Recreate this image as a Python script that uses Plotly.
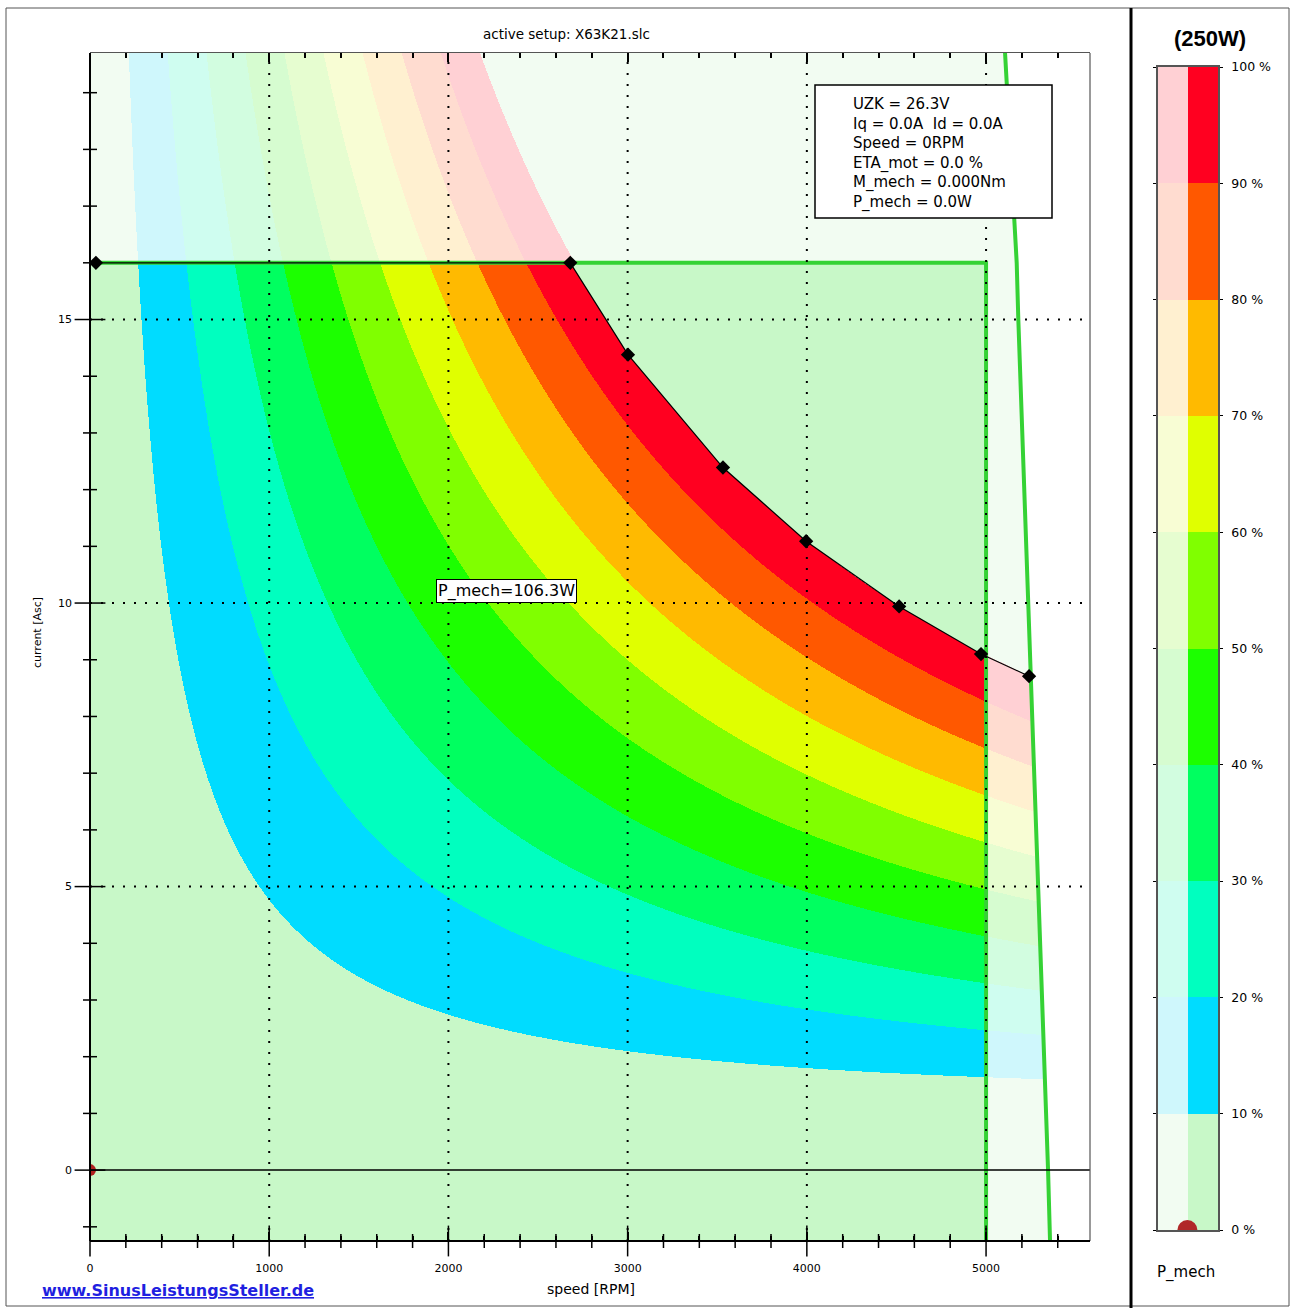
import numpy as np
import plotly.graph_objects as go

W, H = 1291, 1308

# ---------------- axes ----------------
X_RANGE = [0, 5580]
Y_RANGE = [-1.25, 19.7]
X_MAJOR = [0, 1000, 2000, 3000, 4000, 5000]
X_MINOR = [v for v in range(200, 5600, 200) if v % 1000 != 0]
Y_MAJOR = [0, 5, 10, 15]
Y_MINOR = [v for v in range(-1, 20) if v % 5 != 0]

# ---------------- motor model ----------------
P_REF = 250.0          # 100 % mechanical power [W]
BAND_STEP = 25.0       # 10 % bands
K_MECH = 0.00604       # W per (rpm * A)
I_NOLOAD_0 = 0.58      # no-load current at 0 rpm [A]
I_NOLOAD_SLOPE = 4.6e-5  # growth of no-load current per rpm [A/rpm]

LIMIT_RPM = 5000
LIMIT_I = 16

# operating limit curve (black with diamonds)
BOUND_RPM = [33, 2680, 3002, 3532, 3996, 4515, 4972, 5240]
BOUND_I = [16.0, 16.0, 14.38, 12.39, 11.09, 9.94, 9.10, 8.71]

# maximum speed line (green, slanted)
MAXLINE_RPM = [5106, 5171, 5180, 5252, 5346, 5357]
MAXLINE_I = [19.7, 16.0, 15.0, 8.7, 0.0, -1.25]

SAT_COLORS = ["#c8f8c8", "#00dcff", "#00ffbf", "#00ff60", "#1cff00",
              "#80ff00", "#e0ff00", "#ffba00", "#ff5800", "#ff0020"]
PALE_COLORS = ["#f2fcf2", "#cff7fc", "#cffdf0", "#d2fde0", "#d6fcd0",
               "#e6fdd0", "#f8fdd4", "#fff0d0", "#ffdcd0", "#ffd0d4"]
CB_LABELS = ["0 %", "10 %", "20 %", "30 %", "40 %", "50 %", "60 %", "70 %", "80 %", "90 %", "100 %"]
CB_VALUES = [0, 10, 20, 30, 40, 50, 60, 70, 80, 90, 100]

INFO_LINES = ["UZK = 26.3V", "Iq = 0.0A\u00a0\u00a0Id = 0.0A", "Speed = 0RPM",
              "ETA_mot = 0.0 %", "M_mech = 0.000Nm", "P_mech = 0.0W"]

COLORS = SAT_COLORS + PALE_COLORS + ["#ffffff"]
NC = len(COLORS)
cscale = []
for i, c in enumerate(COLORS):
    cscale.append([i / NC, c])
    cscale.append([(i + 1) / NC, c])

# ---------------- field ----------------
nx, ny = 1000, 1188
xs = X_RANGE[0] + (np.arange(nx) + 0.5) * (X_RANGE[1] - X_RANGE[0]) / nx
ys = Y_RANGE[0] + (np.arange(ny) + 0.5) * (Y_RANGE[1] - Y_RANGE[0]) / ny
N, I = np.meshgrid(xs, ys)
P = K_MECH * N * (I - (I_NOLOAD_0 + I_NOLOAD_SLOPE * N))
band = np.floor(P / BAND_STEP).astype(int)
band_eff = np.where((band >= 1) & (band <= 9), band, 0)
bound = np.interp(N, BOUND_RPM, BOUND_I)
main = (N <= LIMIT_RPM) & (I <= LIMIT_I)
main_band = np.where(I <= bound, band_eff, 0)
nmax = np.interp(I, MAXLINE_I[::-1], MAXLINE_RPM[::-1])
z = np.where(main, main_band, 10 + band_eff)
z = np.where(N > nmax, 20, z).astype(np.uint8)


def px(v):
    return v / W


def py(v):
    return 1 - v / H


fig = go.Figure()
fig.add_trace(go.Heatmap(x=xs, y=ys, z=z, colorscale=cscale, zmin=-0.5, zmax=NC - 0.5,
                         showscale=False, hoverinfo="skip", zsmooth=False))
GREEN = "#35d235"
fig.add_trace(go.Scatter(x=[0, LIMIT_RPM, LIMIT_RPM], y=[LIMIT_I, LIMIT_I, Y_RANGE[0]],
                         mode="lines", line=dict(color=GREEN, width=4), hoverinfo="skip"))
fig.add_trace(go.Scatter(x=MAXLINE_RPM, y=MAXLINE_I, mode="lines",
                         line=dict(color=GREEN, width=4), hoverinfo="skip"))
fig.add_trace(go.Scatter(x=BOUND_RPM, y=BOUND_I, mode="lines+markers",
                         line=dict(color="black", width=1.2),
                         marker=dict(symbol="diamond", size=11, color="black"), hoverinfo="skip"))
fig.add_trace(go.Scatter(x=[0], y=[0], mode="markers", cliponaxis=True,
                         marker=dict(size=12, color="#b02020"), hoverinfo="skip"))

# crossing tick marks on the bottom and left axes
TICK = dict(color="black", width=1.5)
fig.add_trace(go.Scatter(x=X_MAJOR, y=[Y_RANGE[0]] * len(X_MAJOR), mode="markers", cliponaxis=False,
                         marker=dict(symbol="line-ns", size=22, line=TICK), hoverinfo="skip"))
fig.add_trace(go.Scatter(x=X_MINOR, y=[Y_RANGE[0]] * len(X_MINOR), mode="markers", cliponaxis=False,
                         marker=dict(symbol="line-ns", size=10, line=TICK), hoverinfo="skip"))
fig.add_trace(go.Scatter(x=[X_RANGE[0]] * len(Y_MAJOR), y=Y_MAJOR, mode="markers", cliponaxis=False,
                         marker=dict(symbol="line-ew", size=22, line=TICK), hoverinfo="skip"))
fig.add_trace(go.Scatter(x=[X_RANGE[0]] * len(Y_MINOR), y=Y_MINOR, mode="markers", cliponaxis=False,
                         marker=dict(symbol="line-ew", size=10, line=TICK), hoverinfo="skip"))

# colour bar as its own small axes
cb_z = [[10 + k, k] for k in range(10)]
fig.add_trace(go.Heatmap(x=[0, 1], y=[5 + 10 * k for k in range(10)], z=cb_z,
                         colorscale=cscale, zmin=-0.5, zmax=NC - 0.5, showscale=False,
                         hoverinfo="skip", xaxis="x2", yaxis="y2"))
fig.add_trace(go.Scatter(x=[0.48], y=[0], mode="markers", cliponaxis=True, xaxis="x2", yaxis="y2",
                         marker=dict(size=20, color="#b02828"), hoverinfo="skip"))

shapes = []
# dotted grid
for v in X_MAJOR[1:]:
    shapes.append(dict(type="line", xref="x", yref="y domain", x0=v, x1=v, y0=0, y1=1,
                       line=dict(color="black", width=2, dash="2px,9px"), layer="above"))
for v in Y_MAJOR[1:]:
    shapes.append(dict(type="line", xref="x domain", yref="y", x0=0, x1=1, y0=v, y1=v,
                       line=dict(color="black", width=2, dash="2px,9px"), layer="above"))
# zero line
shapes.append(dict(type="line", xref="x domain", yref="y", x0=0, x1=1, y0=0, y1=0,
                   line=dict(color="black", width=1.5), layer="above"))
# plot frame
shapes.append(dict(type="line", xref="x domain", yref="y domain", x0=1, x1=1, y0=0, y1=1,
                   line=dict(color="#555555", width=1.2), layer="above"))
shapes.append(dict(type="line", xref="x domain", yref="y domain", x0=0, x1=0, y0=0, y1=1,
                   line=dict(color="black", width=2), layer="above"))
shapes.append(dict(type="line", xref="x domain", yref="y domain", x0=0, x1=1, y0=0, y1=0,
                   line=dict(color="black", width=2), layer="above"))
# info box
shapes.append(dict(type="rect", xref="paper", yref="paper", x0=px(815), x1=px(1052),
                   y0=py(218), y1=py(85), fillcolor="white", line=dict(color="black", width=1.5),
                   layer="above"))
# outer frames
shapes.append(dict(type="rect", xref="paper", yref="paper", x0=px(6), x1=px(1289),
                   y0=py(1306), y1=py(8), line=dict(color="#555555", width=1), layer="above"))
shapes.append(dict(type="line", xref="paper", yref="paper", x0=px(1131), x1=px(1131),
                   y0=0, y1=py(8), line=dict(color="black", width=3), layer="above"))

ann = dict(xref="paper", yref="paper", showarrow=False, xanchor="center", yanchor="middle")
annotations = [
    dict(ann, text="active setup: X63K21.slc", x=px(566), y=py(34), font=dict(size=13.5)),
    dict(ann, text="speed [RPM]", x=px(591), y=py(1289), font=dict(size=14)),
    dict(ann, text="current [Asc]", x=px(37), y=py(633), textangle=-90, font=dict(size=11)),
    dict(ann, text="<b><u>www.SinusLeistungsSteller.de</u></b>", x=px(40), y=py(1290),
         xanchor="left", font=dict(size=16, color="#1f1fe0")),
    dict(ann, text="<br>".join(INFO_LINES), x=px(851), y=py(93),
         xanchor="left", yanchor="top", align="left", font=dict(size=15)),
    dict(ann, text="P_mech=106.3W", x=px(506), y=py(591), bgcolor="white", bordercolor="black",
         borderwidth=1, borderpad=1, font=dict(size=16)),
    dict(ann, text="<b>(250W)</b>", x=px(1210), y=py(38), font=dict(size=22, family="Liberation Sans")),
    dict(ann, text="P_mech", x=px(1186), y=py(1272), font=dict(size=15)),
]

fig.update_layout(
    template="none",
    width=W, height=H,
    margin=dict(l=0, r=0, t=0, b=0),
    paper_bgcolor="white", plot_bgcolor="white",
    font=dict(family="DejaVu Sans", color="black", size=11),
    showlegend=False,
    xaxis=dict(domain=[px(90), px(1090)], range=X_RANGE, tickvals=X_MAJOR,
               ticktext=[str(v) for v in X_MAJOR], ticks="inside", ticklen=9, tickwidth=1.5,
               tickcolor="black",
               minor=dict(tickvals=X_MINOR, ticks="inside", ticklen=5, tickwidth=1.5, tickcolor="black"),
               mirror="allticks", showline=True, linecolor="#555555", linewidth=1.2,
               showgrid=False, zeroline=False, automargin=False, ticklabelstandoff=17,
               anchor="y", tickfont=dict(size=11)),
    yaxis=dict(domain=[py(1241), py(53)], range=Y_RANGE, tickvals=Y_MAJOR,
               ticktext=[str(v) for v in Y_MAJOR], ticks="", showgrid=False, zeroline=False,
               showline=False, automargin=False, ticklabelstandoff=17, anchor="x",
               tickfont=dict(size=11)),
    xaxis2=dict(domain=[px(1158), px(1218)], range=[-0.5, 1.5], showticklabels=False,
                ticks="", showgrid=False, zeroline=False, showline=True, mirror=True,
                linecolor="#555555", linewidth=1.5, anchor="y2", automargin=False),
    yaxis2=dict(domain=[py(1230), py(67)], range=[0, 100], side="right", anchor="x2",
                tickvals=CB_VALUES, ticktext=CB_LABELS, ticks="outside", ticklen=3,
                tickcolor="black", mirror="ticks", showline=True, linecolor="#555555",
                linewidth=1.5, showgrid=False, zeroline=False, automargin=False,
                ticklabelstandoff=6, tickfont=dict(size=12.5)),
    shapes=shapes,
    annotations=annotations,
)

fig.write_html("out.html", config={"displayModeBar": False},
               post_script="document.body.style.margin='0';")
